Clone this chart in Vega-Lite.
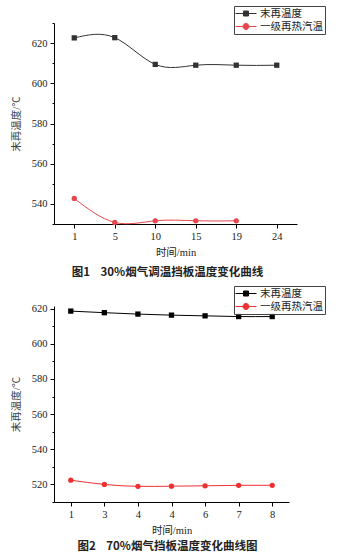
{
  "$schema": "https://vega.github.io/schema/vega-lite/v6.json",
  "padding": {"left": 11, "top": 5, "right": 0, "bottom": 0},
  "spacing": 6,
  "config": {
    "view": {"stroke": null},
    "axis": {
      "labelFont": "Liberation Serif",
      "labelFontSize": 10.5,
      "labelColor": "#222",
      "titleFont": "Liberation Serif, Noto Sans CJK SC",
      "titleFontWeight": "normal",
      "titleFontSize": 10.5,
      "titleColor": "#444",
      "domainColor": "#000",
      "tickColor": "#000",
      "grid": false
    },
    "legend": {
      "labelFont": "Liberation Serif, Noto Sans CJK SC",
      "labelFontSize": 10.5,
      "labelColor": "#222",
      "strokeColor": "#444",
      "padding": 2,
      "rowPadding": 2,
      "symbolSize": 100,
      "labelOffset": 13,
      "orient": "none"
    },
    "title": {
      "font": "Noto Sans CJK SC",
      "fontSize": 11.5,
      "fontWeight": "bold",
      "color": "#222",
      "orient": "bottom",
      "anchor": "middle"
    }
  },
  "vconcat": [
    {
      "width": 243,
      "height": 201,
      "title": {"text": "图1\u00a0\u00a0\u00a0\u00a030%烟气调温挡板温度变化曲线", "orient": "bottom", "dx": -8, "offset": 9},
      "data": {"values": [
        {"t": 1, "series": "末再温度", "temp": 622.6},
        {"t": 5, "series": "末再温度", "temp": 622.7},
        {"t": 10, "series": "末再温度", "temp": 609.4},
        {"t": 15, "series": "末再温度", "temp": 609.0},
        {"t": 19, "series": "末再温度", "temp": 609.0},
        {"t": 24, "series": "末再温度", "temp": 609.0},
        {"t": 1, "series": "一级再热汽温", "temp": 542.7},
        {"t": 5, "series": "一级再热汽温", "temp": 530.8},
        {"t": 10, "series": "一级再热汽温", "temp": 531.6},
        {"t": 15, "series": "一级再热汽温", "temp": 531.6},
        {"t": 19, "series": "一级再热汽温", "temp": 531.6}
      ]},
      "encoding": {
        "x": {"field": "t", "type": "ordinal", "scale": {"type": "point", "padding": 0.5},
          "axis": {"title": "时间/min", "labelAngle": 0, "tickSize": 4, "labelPadding": 3, "titlePadding": 6, "titleColor": "#222"}},
        "y": {"field": "temp", "type": "quantitative", "scale": {"domain": [530, 630], "nice": false, "zero": false},
          "axis": {"title": "末再温度/℃", "values": [530, 540, 550, 560, 570, 580, 590, 600, 610, 620, 630],
            "labelExpr": "datum.value % 20 === 0 ? datum.label : ''",
            "tickSize": {"condition": {"test": "datum.value % 20 === 0", "value": 4}, "value": 2},
            "labelPadding": 3, "titlePadding": 10}},
        "color": {"field": "series", "type": "nominal",
          "scale": {"domain": ["末再温度", "一级再热汽温"], "range": ["#333333", "#e8464c"]},
          "legend": {"title": null, "legendX": 180, "legendY": -17,
            "encode": {"symbols": {"update": {
              "shape": {"signal": "datum.value === '末再温度' ? 'M-1.2,0H3M0.4,-0.5H1.4V0.5H0.4Z' : 'M-1.2,0H3M0.3,0A0.6,0.6 0 1,1 1.5,0A0.6,0.6 0 1,1 0.3,0Z'"},
              "fill": {"signal": "datum.value === '末再温度' ? '#333333' : '#e8464c'"},
              "stroke": {"signal": "datum.value === '末再温度' ? '#333333' : '#e8464c'"},
              "strokeWidth": {"value": 1},
              "opacity": {"value": 1}
            }}}}}
      },
      "layer": [
        {"mark": {"type": "line", "interpolate": "natural", "strokeWidth": 1}},
        {"mark": {"type": "point", "filled": true, "opacity": 1, "size": 28},
          "encoding": {"shape": {"condition": {"test": "datum.series === '末再温度'", "value": "square"}, "value": "circle"}}}
      ]
    },
    {
      "width": 235,
      "height": 196,
      "title": {"text": "图2\u00a0\u00a0\u00a0\u00a070%烟气挡板温度变化曲线图", "orient": "bottom", "dx": -4, "offset": 5},
      "data": {"values": [
        {"idx": 1, "series": "末再温度", "temp": 618.6},
        {"idx": 2, "series": "末再温度", "temp": 617.7},
        {"idx": 3, "series": "末再温度", "temp": 616.9},
        {"idx": 4, "series": "末再温度", "temp": 616.3},
        {"idx": 5, "series": "末再温度", "temp": 615.9},
        {"idx": 6, "series": "末再温度", "temp": 615.5},
        {"idx": 7, "series": "末再温度", "temp": 615.5},
        {"idx": 1, "series": "一级再热汽温", "temp": 522.4},
        {"idx": 2, "series": "一级再热汽温", "temp": 520.0},
        {"idx": 3, "series": "一级再热汽温", "temp": 518.9},
        {"idx": 4, "series": "一级再热汽温", "temp": 519.0},
        {"idx": 5, "series": "一级再热汽温", "temp": 519.2},
        {"idx": 6, "series": "一级再热汽温", "temp": 519.5},
        {"idx": 7, "series": "一级再热汽温", "temp": 519.5}
      ]},
      "encoding": {
        "x": {"field": "idx", "type": "ordinal", "scale": {"type": "point", "padding": 0.5},
          "axis": {"title": "时间/min", "labelAngle": 0, "tickSize": 4, "labelPadding": 3, "titlePadding": 6, "titleColor": "#222",
            "labelExpr": "['1','3','4','4','6','7','8'][datum.value - 1]"}},
        "y": {"field": "temp", "type": "quantitative", "scale": {"domain": [510, 621.5], "nice": false, "zero": false},
          "axis": {"title": "末再温度/℃", "values": [510, 520, 530, 540, 550, 560, 570, 580, 590, 600, 610, 620],
            "labelExpr": "datum.value % 20 === 0 ? datum.label : ''",
            "tickSize": {"condition": {"test": "datum.value % 20 === 0", "value": 4}, "value": 2},
            "labelPadding": 3, "titlePadding": 10}},
        "color": {"field": "series", "type": "nominal",
          "scale": {"domain": ["末再温度", "一级再热汽温"], "range": ["#000000", "#f03030"]},
          "legend": {"title": null, "legendX": 180, "legendY": -20,
            "encode": {"symbols": {"update": {
              "shape": {"signal": "datum.value === '末再温度' ? 'M-1.2,0H3M0.4,-0.5H1.4V0.5H0.4Z' : 'M-1.2,0H3M0.3,0A0.6,0.6 0 1,1 1.5,0A0.6,0.6 0 1,1 0.3,0Z'"},
              "fill": {"signal": "datum.value === '末再温度' ? '#000000' : '#f03030'"},
              "stroke": {"signal": "datum.value === '末再温度' ? '#000000' : '#f03030'"},
              "strokeWidth": {"value": 1},
              "opacity": {"value": 1}
            }}}}}
      },
      "layer": [
        {"mark": {"type": "line", "interpolate": "natural", "strokeWidth": 1}},
        {"mark": {"type": "point", "filled": true, "opacity": 1, "size": 28},
          "encoding": {"shape": {"condition": {"test": "datum.series === '末再温度'", "value": "square"}, "value": "circle"}}}
      ]
    }
  ],
  "resolve": {"scale": {"color": "independent", "x": "independent", "y": "independent"}, "legend": {"color": "independent"}}
}
